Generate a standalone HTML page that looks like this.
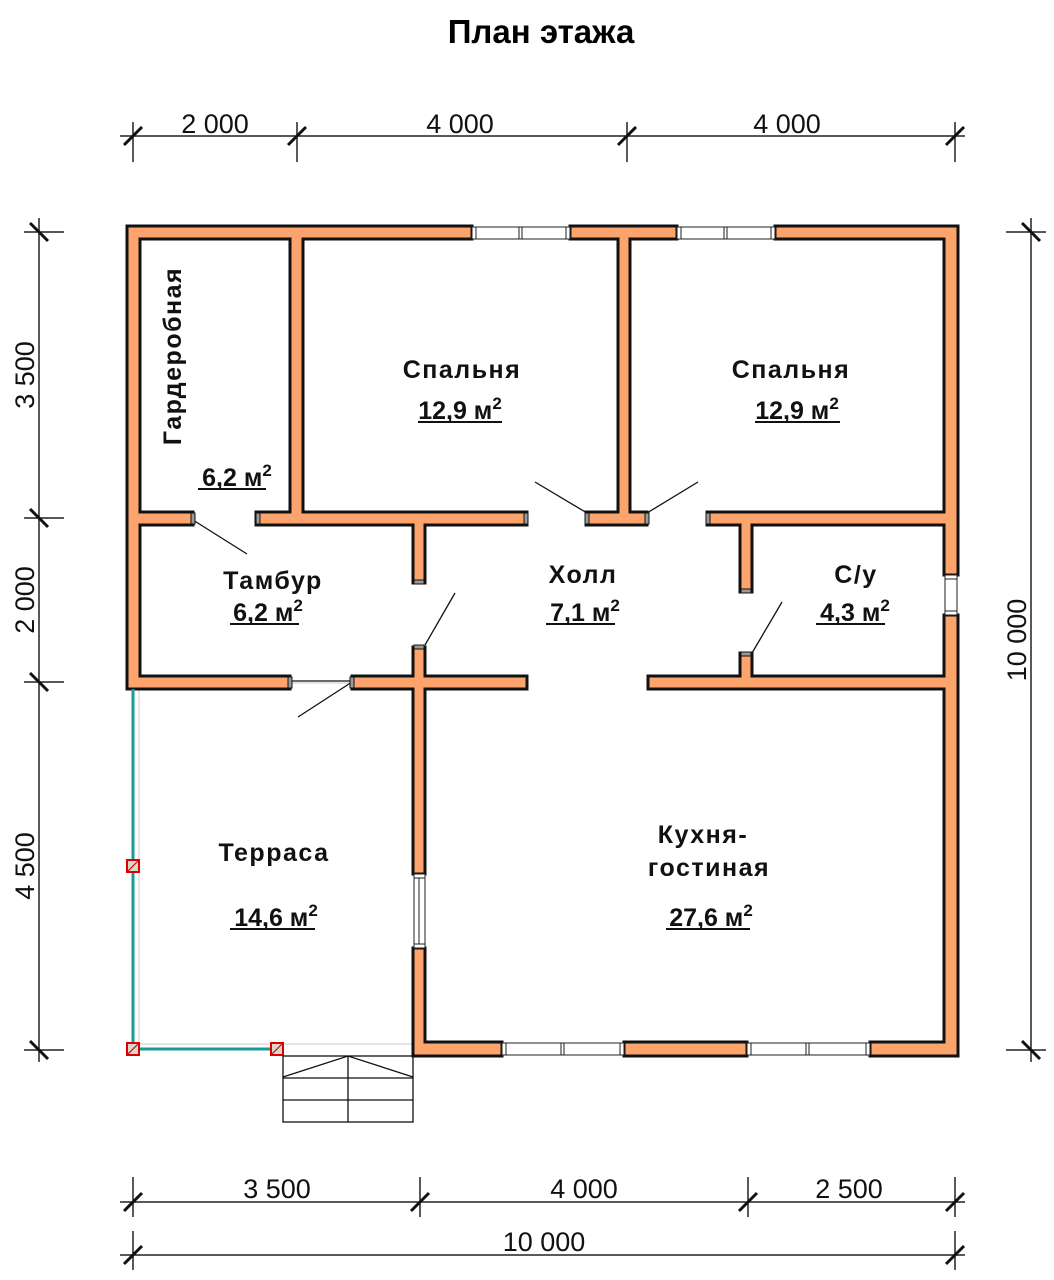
<!DOCTYPE html>
<html><head><meta charset="utf-8"><style>
html,body{margin:0;padding:0;background:#fff;}
svg{display:block;}
text{font-family:"Liberation Sans",Arial,sans-serif;}
.d{font-size:27px;fill:#111;}
.r{font-size:25px;font-weight:bold;fill:#111;letter-spacing:1.5px;}
.a{font-size:25px;font-weight:bold;fill:#111;}
</style></head><body>
<svg width="1054" height="1280" viewBox="0 0 1054 1280" xmlns="http://www.w3.org/2000/svg">
<text x="541" y="43" text-anchor="middle" style="font-size:33px;font-weight:bold;">План этажа</text>

<g stroke="#222" stroke-width="1.5" fill="none">
<line x1="120" y1="136" x2="965" y2="136"/>
<line x1="133" y1="122" x2="133" y2="162"/><line x1="297" y1="122" x2="297" y2="162"/>
<line x1="627" y1="122" x2="627" y2="162"/><line x1="955" y1="122" x2="955" y2="162"/>
<line x1="39" y1="218" x2="39" y2="1062"/>
<line x1="24" y1="232" x2="64" y2="232"/><line x1="24" y1="518" x2="64" y2="518"/>
<line x1="24" y1="682" x2="64" y2="682"/><line x1="24" y1="1050" x2="64" y2="1050"/>
<line x1="1031" y1="218" x2="1031" y2="1062"/>
<line x1="1006" y1="232" x2="1046" y2="232"/><line x1="1006" y1="1050" x2="1046" y2="1050"/>
<line x1="120" y1="1202" x2="965" y2="1202"/>
<line x1="133" y1="1177" x2="133" y2="1217"/><line x1="420" y1="1177" x2="420" y2="1217"/>
<line x1="748" y1="1177" x2="748" y2="1217"/><line x1="955" y1="1177" x2="955" y2="1217"/>
<line x1="120" y1="1255" x2="965" y2="1255"/>
<line x1="133" y1="1231" x2="133" y2="1270"/><line x1="955" y1="1231" x2="955" y2="1270"/>
</g>
<g stroke="#111" stroke-width="3">
<line x1="124" y1="145" x2="142" y2="127"/><line x1="288" y1="145" x2="306" y2="127"/>
<line x1="618" y1="145" x2="636" y2="127"/><line x1="946" y1="145" x2="964" y2="127"/>
<line x1="30" y1="223" x2="48" y2="241"/><line x1="30" y1="509" x2="48" y2="527"/>
<line x1="30" y1="673" x2="48" y2="691"/><line x1="30" y1="1041" x2="48" y2="1059"/>
<line x1="1022" y1="223" x2="1040" y2="241"/><line x1="1022" y1="1041" x2="1040" y2="1059"/>
<line x1="124" y1="1211" x2="142" y2="1193"/><line x1="411" y1="1211" x2="429" y2="1193"/>
<line x1="739" y1="1211" x2="757" y2="1193"/><line x1="946" y1="1211" x2="964" y2="1193"/>
<line x1="124" y1="1264" x2="142" y2="1246"/><line x1="946" y1="1264" x2="964" y2="1246"/>
</g>
<text class="d" x="215" y="133" text-anchor="middle">2 000</text>
<text class="d" x="460" y="133" text-anchor="middle">4 000</text>
<text class="d" x="787" y="133" text-anchor="middle">4 000</text>
<text class="d" x="277" y="1198" text-anchor="middle">3 500</text>
<text class="d" x="584" y="1198" text-anchor="middle">4 000</text>
<text class="d" x="849" y="1198" text-anchor="middle">2 500</text>
<text class="d" x="544" y="1251" text-anchor="middle">10 000</text>
<text class="d" transform="translate(34,375) rotate(-90)" text-anchor="middle">3 500</text>
<text class="d" transform="translate(34,600) rotate(-90)" text-anchor="middle">2 000</text>
<text class="d" transform="translate(34,866) rotate(-90)" text-anchor="middle">4 500</text>
<text class="d" transform="translate(1026,640) rotate(-90)" text-anchor="middle">10 000</text>

<g stroke="#ddd" stroke-width="1.5" fill="none">
<line x1="139" y1="689" x2="139" y2="1050"/>
<line x1="133" y1="1044" x2="413" y2="1044"/>
<line x1="133" y1="683" x2="413" y2="683"/>
</g>

<g stroke="#111" stroke-width="3" fill="#FCA46B">
<rect x="127" y="226" width="345" height="13"/>
<rect x="570" y="226" width="107" height="13"/>
<rect x="775" y="226" width="183" height="13"/>
<rect x="127" y="226" width="13" height="463"/>
<rect x="944" y="226" width="14" height="349"/>
<rect x="944" y="615" width="14" height="441"/>
<rect x="413" y="1042" width="89" height="14"/>
<rect x="624" y="1042" width="123" height="14"/>
<rect x="870" y="1042" width="88" height="14"/>
<rect x="290" y="226" width="13" height="299"/>
<rect x="618" y="226" width="12" height="299"/>
<rect x="127" y="512" width="66" height="13"/>
<rect x="256" y="512" width="271" height="13"/>
<rect x="586" y="512" width="61" height="13"/>
<rect x="707" y="512" width="251" height="13"/>
<rect x="413" y="512" width="12" height="71"/>
<rect x="740" y="512" width="12" height="80"/>
<rect x="127" y="676" width="163" height="13"/>
<rect x="352" y="676" width="175" height="13"/>
<rect x="648" y="676" width="310" height="13"/>
<rect x="413" y="647" width="12" height="227"/>
<rect x="413" y="948" width="12" height="108"/>
<rect x="740" y="653" width="12" height="36"/>
</g>
<g fill="#FCA46B">
<rect x="128.5" y="227.5" width="342" height="10"/>
<rect x="571.5" y="227.5" width="104" height="10"/>
<rect x="776.5" y="227.5" width="180" height="10"/>
<rect x="128.5" y="227.5" width="10" height="460"/>
<rect x="945.5" y="227.5" width="11" height="346"/>
<rect x="945.5" y="616.5" width="11" height="438"/>
<rect x="414.5" y="1043.5" width="86" height="11"/>
<rect x="625.5" y="1043.5" width="120" height="11"/>
<rect x="871.5" y="1043.5" width="85" height="11"/>
<rect x="291.5" y="227.5" width="10" height="296"/>
<rect x="619.5" y="227.5" width="9" height="296"/>
<rect x="128.5" y="513.5" width="63" height="10"/>
<rect x="257.5" y="513.5" width="268" height="10"/>
<rect x="587.5" y="513.5" width="58" height="10"/>
<rect x="708.5" y="513.5" width="248" height="10"/>
<rect x="414.5" y="513.5" width="9" height="68"/>
<rect x="741.5" y="513.5" width="9" height="77"/>
<rect x="128.5" y="677.5" width="160" height="10"/>
<rect x="353.5" y="677.5" width="172" height="10"/>
<rect x="649.5" y="677.5" width="307" height="10"/>
<rect x="414.5" y="648.5" width="9" height="224"/>
<rect x="414.5" y="949.5" width="9" height="105"/>
<rect x="741.5" y="654.5" width="9" height="33"/>
</g>

<g stroke="#222" stroke-width="1" fill="#fff">
<rect x="472" y="227" width="98" height="12"/>
<line x1="476" y1="227" x2="476" y2="239"/><line x1="519" y1="227" x2="519" y2="239"/><line x1="522" y1="227" x2="522" y2="239"/><line x1="566" y1="227" x2="566" y2="239"/>
<rect x="677" y="227" width="98" height="12"/>
<line x1="681" y1="227" x2="681" y2="239"/><line x1="724" y1="227" x2="724" y2="239"/><line x1="727" y1="227" x2="727" y2="239"/><line x1="771" y1="227" x2="771" y2="239"/>
<rect x="502" y="1043" width="122" height="12"/>
<line x1="506" y1="1043" x2="506" y2="1055"/><line x1="561" y1="1043" x2="561" y2="1055"/><line x1="564" y1="1043" x2="564" y2="1055"/><line x1="620" y1="1043" x2="620" y2="1055"/>
<rect x="747" y="1043" width="123" height="12"/>
<line x1="751" y1="1043" x2="751" y2="1055"/><line x1="806" y1="1043" x2="806" y2="1055"/><line x1="809" y1="1043" x2="809" y2="1055"/><line x1="866" y1="1043" x2="866" y2="1055"/>
<rect x="945" y="575" width="12" height="40"/>
<line x1="945" y1="579" x2="957" y2="579"/><line x1="945" y1="611" x2="957" y2="611"/>
<rect x="414" y="874" width="11" height="74"/>
<line x1="414" y1="878" x2="425" y2="878"/><line x1="414" y1="944" x2="425" y2="944"/><line x1="419" y1="878" x2="419" y2="944"/>
</g>

<g stroke="#111" stroke-width="1.3">
<line x1="193" y1="520" x2="247" y2="554"/>
<line x1="425" y1="645" x2="455" y2="593"/>
<line x1="352" y1="682" x2="298" y2="717"/>
<line x1="290" y1="681" x2="352" y2="681"/>
<line x1="587" y1="513" x2="535" y2="482"/>
<line x1="647" y1="513" x2="698" y2="482"/>
<line x1="752" y1="653" x2="782" y2="602"/>
</g>
<g fill="#999" stroke="#111" stroke-width="1">
<rect x="191" y="513" width="4" height="11"/><rect x="256" y="513" width="4" height="11"/>
<rect x="585" y="513" width="4" height="11"/><rect x="645" y="513" width="4" height="11"/>
<rect x="706" y="513" width="4" height="11"/><rect x="524" y="513" width="4" height="11"/>
<rect x="288" y="677" width="4" height="11"/><rect x="350" y="677" width="4" height="11"/>
<rect x="414" y="580" width="10" height="4"/><rect x="414" y="645" width="10" height="4"/>
<rect x="741" y="589" width="10" height="4"/><rect x="741" y="652" width="10" height="4"/>
</g>

<g stroke="#1a9a9a" stroke-width="3" fill="none">
<line x1="133" y1="689" x2="133" y2="1049"/>
<line x1="133" y1="1049" x2="277" y2="1049"/>
</g>
<g stroke="#d00" stroke-width="2" fill="#d8d8cc">
<rect x="127" y="860" width="12" height="12"/>
<rect x="127" y="1043" width="12" height="12"/>
<rect x="271" y="1043" width="12" height="12"/>
</g>
<g stroke="#d00" stroke-width="1.2"><line x1="127" y1="872" x2="139" y2="860"/><line x1="127" y1="1055" x2="139" y2="1043"/><line x1="271" y1="1055" x2="283" y2="1043"/></g>

<g stroke="#111" stroke-width="1.3" fill="none">
<rect x="283" y="1056" width="130" height="66"/>
<line x1="283" y1="1078" x2="413" y2="1078"/>
<line x1="283" y1="1100" x2="413" y2="1100"/>
<line x1="348" y1="1056" x2="348" y2="1122"/>
<polyline points="283,1077 348,1056 413,1077"/>
</g>

<text class="r" transform="translate(181,356) rotate(-90)" text-anchor="middle">Гардеробная</text>
<text class="a" x="237" y="486" text-anchor="middle">6,2 м<tspan dy="-10" font-size="17">2</tspan></text>
<line x1="198" y1="489" x2="266" y2="489" stroke="#111" stroke-width="2"/>
<text class="r" x="462" y="378" text-anchor="middle">Спальня</text>
<text class="a" x="460" y="419" text-anchor="middle">12,9 м<tspan dy="-10" font-size="17">2</tspan></text>
<line x1="418" y1="422" x2="502" y2="422" stroke="#111" stroke-width="2"/>
<text class="r" x="791" y="378" text-anchor="middle">Спальня</text>
<text class="a" x="797" y="419" text-anchor="middle">12,9 м<tspan dy="-10" font-size="17">2</tspan></text>
<line x1="755" y1="422" x2="840" y2="422" stroke="#111" stroke-width="2"/>
<text class="r" x="273" y="589" text-anchor="middle">Тамбур</text>
<text class="a" x="268" y="621" text-anchor="middle">6,2 м<tspan dy="-10" font-size="17">2</tspan></text>
<line x1="230" y1="624" x2="299" y2="624" stroke="#111" stroke-width="2"/>
<text class="r" x="583" y="583" text-anchor="middle">Холл</text>
<text class="a" x="585" y="621" text-anchor="middle">7,1 м<tspan dy="-10" font-size="17">2</tspan></text>
<line x1="546" y1="624" x2="615" y2="624" stroke="#111" stroke-width="2"/>
<text class="r" x="856" y="583" text-anchor="middle">С/у</text>
<text class="a" x="855" y="621" text-anchor="middle">4,3 м<tspan dy="-10" font-size="17">2</tspan></text>
<line x1="816" y1="624" x2="885" y2="624" stroke="#111" stroke-width="2"/>
<text class="r" x="274" y="861" text-anchor="middle">Терраса</text>
<text class="a" x="276" y="926" text-anchor="middle">14,6 м<tspan dy="-10" font-size="17">2</tspan></text>
<line x1="230" y1="929" x2="315" y2="929" stroke="#111" stroke-width="2"/>
<text class="r" x="703" y="843" text-anchor="middle">Кухня-</text>
<text class="r" x="709" y="876" text-anchor="middle">гостиная</text>
<text class="a" x="711" y="926" text-anchor="middle">27,6 м<tspan dy="-10" font-size="17">2</tspan></text>
<line x1="666" y1="929" x2="750" y2="929" stroke="#111" stroke-width="2"/>
</svg>
</body></html>
